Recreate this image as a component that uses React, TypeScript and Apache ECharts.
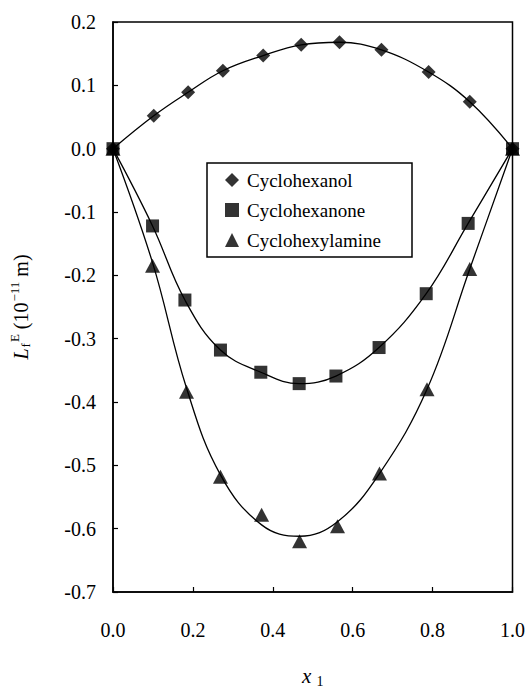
import React, { useEffect, useRef } from "react";
import * as echarts from "echarts";

const olX = [0, 0.102, 0.188, 0.275, 0.376, 0.471, 0.567, 0.672, 0.79, 0.893, 1.0];
const olY = [0, 0.052, 0.089, 0.123, 0.147, 0.164, 0.168, 0.156, 0.121, 0.074, 0];

const oneX = [0, 0.099, 0.18, 0.269, 0.37, 0.466, 0.558, 0.666, 0.784, 0.889, 1.0];
const oneY = [0, -0.122, -0.239, -0.318, -0.353, -0.371, -0.359, -0.314, -0.229, -0.118, 0];

const amX = [0, 0.099, 0.184, 0.269, 0.372, 0.467, 0.562, 0.667, 0.786, 0.893, 1.0];
const amY = [0, -0.185, -0.384, -0.518, -0.578, -0.62, -0.596, -0.513, -0.38, -0.19, 0];
// fitted curve
const amFitY = [0, -0.18, -0.378, -0.515, -0.594, -0.612, -0.589, -0.513, -0.38, -0.19, 0];

const seriesNames = ["Cyclohexanol", "Cyclohexanone", "Cyclohexylamine"];
const xTicks = { min: 0, max: 1, interval: 0.2 };
const yTicks = { min: -0.7, max: 0.2, interval: 0.1 };

const zip = (xs: number[], ys: number[]) => xs.map((x, i) => [x, ys[i]]);

export default function App() {
  const ref = useRef<HTMLDivElement>(null);
  useEffect(() => {
    if (!ref.current) return;
    const chart = echarts.init(ref.current, null, { renderer: "svg" });
    const font = "Liberation Serif";
    const lineStyle = { color: "#000", width: 1.3 };
    chart.setOption({
      animation: false,
      backgroundColor: "#fff",
      textStyle: { fontFamily: font, color: "#000" },
      grid: { left: 110, right: 15, top: 22, bottom: 92, show: true, borderColor: "#000", borderWidth: 1.5 },
      xAxis: {
        type: "value",
        min: xTicks.min,
        max: xTicks.max,
        interval: xTicks.interval,
        axisLine: { onZero: false, lineStyle: { color: "#000", width: 1.5 } },
        axisTick: { inside: true, length: 5, lineStyle: { color: "#000", width: 1.2 } },
        splitLine: { show: false },
        axisLabel: { fontFamily: font, fontSize: 20, color: "#000", margin: 28, formatter: (v: number) => v.toFixed(1) },
        name: "{i|x}{s|1}",
        nameLocation: "middle",
        nameGap: 72,
        nameTextStyle: {
          rich: {
            i: { fontFamily: font, fontStyle: "italic", fontSize: 21, color: "#000" },
            s: { fontFamily: font, fontSize: 14, color: "#000", padding: [10, 0, 0, 5] },
          },
        },
      },
      yAxis: {
        type: "value",
        min: yTicks.min,
        max: yTicks.max,
        interval: yTicks.interval,
        axisLine: { show: true, onZero: false, lineStyle: { color: "#000", width: 1.5 } },
        axisTick: { show: true, inside: true, length: 5, lineStyle: { color: "#000", width: 1.2 } },
        splitLine: { show: false },
        axisLabel: { fontFamily: font, fontSize: 20, color: "#000", margin: 17, formatter: (v: number) => v.toFixed(1) },
        name: "{i|L}{s|f}{p|E} (10{p|−11} m)",
        nameLocation: "middle",
        nameRotate: 90,
        nameGap: 80,
        nameTextStyle: {
          fontFamily: font,
          fontSize: 20,
          color: "#000",
          rich: {
            i: { fontFamily: font, fontStyle: "italic", fontSize: 20, color: "#000" },
            s: { fontFamily: font, fontSize: 13, color: "#000", padding: [10, 0, 0, 1] },
            p: { fontFamily: font, fontSize: 13, color: "#000", padding: [0, 0, 12, 1] },
          },
        },
      },
      legend: {
        data: seriesNames,
        orient: "vertical",
        left: 225,
        top: 170,
        padding: 0,
        itemWidth: 14,
        itemHeight: 14,
        itemGap: 10,
        textStyle: { fontFamily: font, fontSize: 19, lineHeight: 20, color: "#000", padding: [0, 0, 0, 3] },
      },
      graphic: [
        {
          type: "rect",
          shape: { x: 207, y: 163, width: 205, height: 94 },
          style: { fill: "transparent", stroke: "#000", lineWidth: 1.5 },
          z: 10,
        },
      ],
      series: [
        { type: "line", data: zip(olX, olY), smooth: 0.4, showSymbol: false, lineStyle, z: 2 },
        { type: "line", data: zip(oneX, oneY), smooth: 0.4, showSymbol: false, lineStyle, z: 2 },
        { type: "line", data: zip(amX, amFitY), smooth: 0.4, showSymbol: false, lineStyle, z: 2 },
        { name: seriesNames[0], type: "scatter", data: zip(olX, olY), symbol: "diamond", symbolSize: 14, itemStyle: { color: "#000" }, z: 3 },
        { name: seriesNames[1], type: "scatter", data: zip(oneX, oneY), symbol: "rect", symbolSize: 13, itemStyle: { color: "#000" }, z: 3 },
        { name: seriesNames[2], type: "scatter", data: zip(amX, amY), symbol: "triangle", symbolSize: [15, 14], itemStyle: { color: "#000" }, z: 3 },
      ],
    });
    return () => chart.dispose();
  }, []);
  return <div ref={ref} style={{ position: "fixed", left: 0, top: 0, width: 528, height: 693 }} />;
}
